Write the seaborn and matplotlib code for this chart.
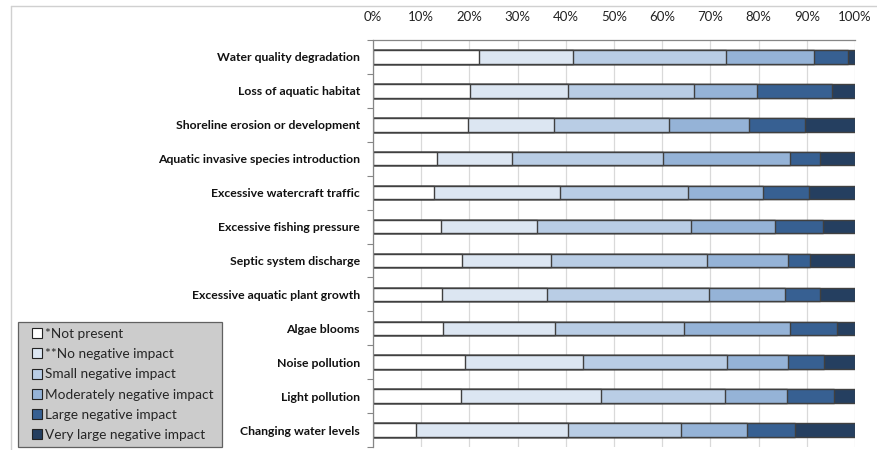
import numpy as np
import pandas as pd
import matplotlib.pyplot as plt
import seaborn as sns
from matplotlib.lines import Line2D
from matplotlib.ticker import FixedLocator, PercentFormatter

sns.set_theme(style="white")
plt.rcParams['font.family'] = ['Lato', 'DejaVu Sans']

# 카테고리 / 응답 비율 (%)
categories = [
    "Water quality degradation",
    "Loss of aquatic habitat",
    "Shoreline erosion or development",
    "Aquatic invasive species introduction",
    "Excessive watercraft traffic",
    "Excessive fishing pressure",
    "Septic system discharge",
    "Excessive aquatic plant growth",
    "Algae blooms",
    "Noise pollution",
    "Light pollution",
    "Changing water levels",
]
not_present = [21.9, 20.2, 19.8, 13.3, 12.6, 14.2, 18.4, 14.4, 14.6, 19.1, 18.2, 8.9]
no_negative = [19.5, 20.2, 17.7, 15.6, 26.3, 19.8, 18.5, 21.6, 23.1, 24.5, 29.0, 31.5]
small_neg = [31.8, 26.2, 23.9, 31.3, 26.4, 31.9, 32.3, 33.8, 26.9, 29.8, 25.9, 23.6]
moderate_neg = [18.2, 13.1, 16.6, 26.5, 15.7, 17.5, 16.8, 15.7, 22.0, 12.6, 12.8, 13.5]
large_neg = [7.2, 15.5, 11.6, 6.1, 9.5, 9.9, 4.7, 7.2, 9.7, 7.5, 9.7, 10.1]
very_large_neg = [1.4, 4.8, 10.4, 7.3, 9.5, 6.7, 9.3, 7.3, 3.7, 6.5, 4.4, 12.4]

series_labels = ["*Not present", "**No negative impact", "Small negative impact",
                 "Moderately negative impact", "Large negative impact",
                 "Very large negative impact"]
colors = ["#ffffff", "#dce6f2", "#b9cde5", "#95b3d7", "#376092", "#253f60"]

df = pd.DataFrame({
    "category": categories,
    series_labels[0]: not_present,
    series_labels[1]: no_negative,
    series_labels[2]: small_neg,
    series_labels[3]: moderate_neg,
    series_labels[4]: large_neg,
    series_labels[5]: very_large_neg,
})
# 100% 기준으로 정규화
vals = df[series_labels].to_numpy(dtype=float)
vals = vals / vals.sum(axis=1, keepdims=True) * 100
cum = np.cumsum(vals, axis=1)

fig = plt.figure(figsize=(8.77, 4.5), dpi=100)
ax = fig.add_axes([373 / 877, 3 / 450, (855 - 373) / 877, (447 - 40) / 450])

# 누적 막대: 뒤에서부터 그리기
for i in range(len(series_labels) - 1, -1, -1):
    sns.barplot(x=cum[:, i], y=df["category"], orient="h", color=colors[i],
                saturation=1, edgecolor="#404040", linewidth=1.0,
                width=0.4, errorbar=None, ax=ax)

ax.set_xlim(0, 100)
ax.set_ylim(11.5, -0.5)
ax.set_xlabel("")
ax.set_ylabel("")
ax.xaxis.set_major_locator(FixedLocator(np.arange(0, 101, 10)))
ax.xaxis.set_major_formatter(PercentFormatter(decimals=0))
ax.xaxis.tick_top()
ax.tick_params(axis="x", length=0, pad=12, labelsize=9.5, colors="#222222")
ax.grid(axis="x", color="#d9d9d9", linewidth=0.9)
ax.set_axisbelow(True)

ax.yaxis.set_minor_locator(FixedLocator(np.arange(-0.5, 12, 1)))
ax.tick_params(axis="y", which="major", length=0, pad=9.5, labelsize=8.8)
ax.tick_params(axis="y", which="minor", left=True, length=4, width=0.8, color="#868686")
for lbl in ax.get_yticklabels():
    lbl.set_fontweight("bold")
    lbl.set_color("#111111")

for s in ["right", "bottom"]:
    ax.spines[s].set_visible(False)
ax.spines["top"].set_color("#868686")
ax.spines["left"].set_color("#868686")
ax.spines["top"].set_linewidth(0.9)
ax.spines["left"].set_linewidth(0.9)

# 범례 (작은 사각형 마커)
handles = [Line2D([0], [0], marker="s", linestyle="none", markersize=7,
                  markerfacecolor=c, markeredgecolor="#222222", markeredgewidth=0.8,
                  label=l)
           for c, l in zip(colors, series_labels)]
leg = fig.legend(handles=handles, loc="lower left",
                 bbox_to_anchor=(18 / 877, 3 / 450, 204 / 877, 127 / 450), mode="expand",
                 fontsize=9.8, frameon=True, fancybox=False, handlelength=1.9,
                 handletextpad=-0.35, labelspacing=0.6,
                 borderpad=0.45, borderaxespad=0)
leg.get_frame().set_facecolor("#c0c0c0")
leg.get_frame().set_edgecolor("#404040")
leg.get_frame().set_linewidth(0.9)

# 차트 외곽선
fig.add_artist(Line2D([10.5 / 877, 10.5 / 877], [0, 1 - 5.5 / 450],
                      transform=fig.transFigure, color="#d0d0d0", linewidth=1))
fig.add_artist(Line2D([10.5 / 877, 1], [1 - 5.5 / 450, 1 - 5.5 / 450],
                      transform=fig.transFigure, color="#d0d0d0", linewidth=1))

fig.savefig("out.png", dpi=100)
